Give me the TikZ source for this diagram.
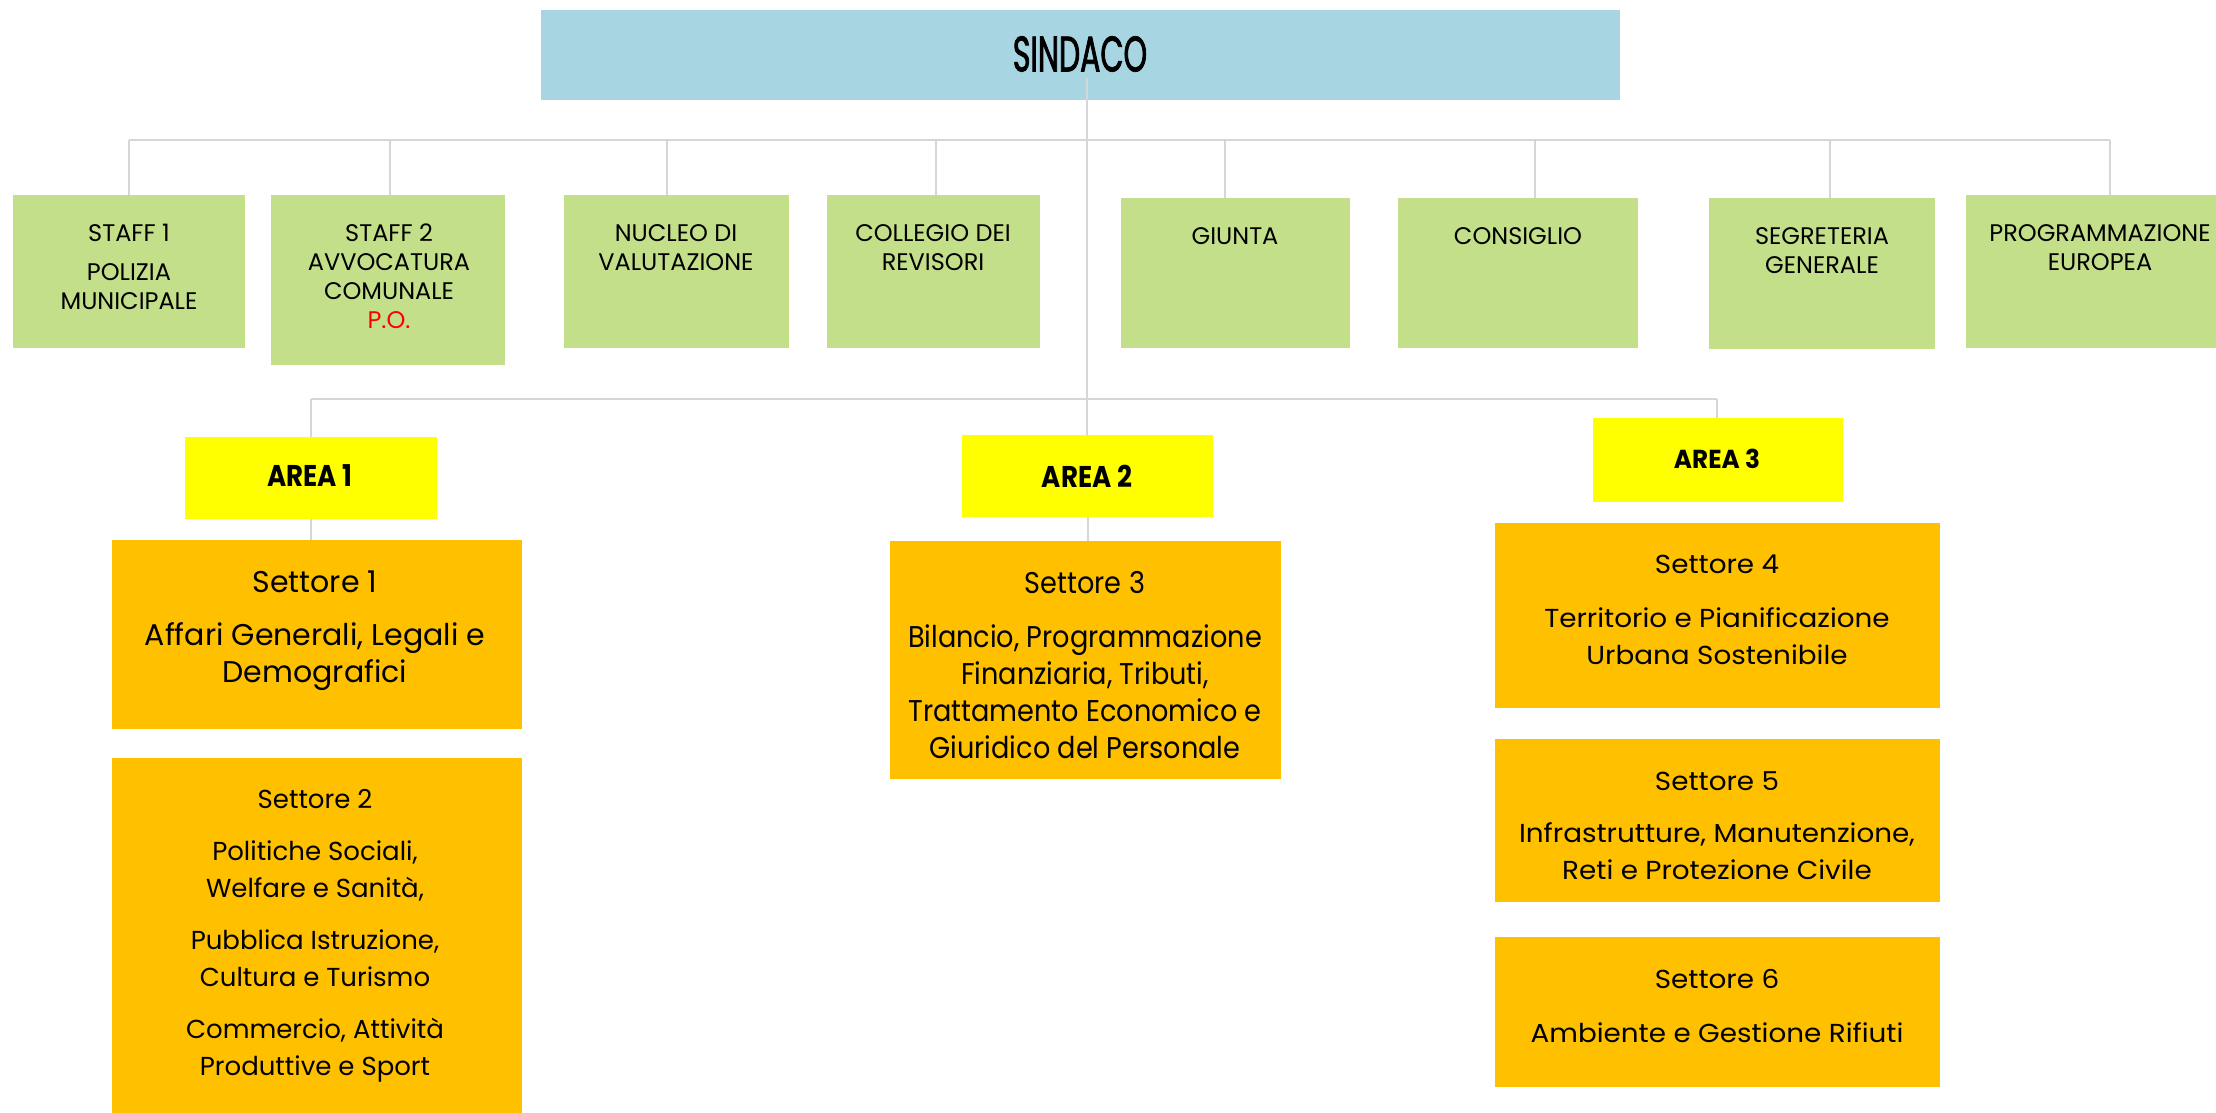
\documentclass[tikz,border=0pt]{standalone}
\usepackage{fontspec}
\setmainfont{Poppins}
\newfontfamily\sindfont{Poppins}[FakeStretch=0.6, FakeBold=1.5]
\newfontfamily\greenfont{Poppins}[FakeStretch=1.0]
\newfontfamily\areacfont{Poppins}[FakeStretch=0.87]
\newfontfamily\areafont{Poppins}[FakeStretch=0.95]
\newfontfamily\condfont{Poppins}[FakeStretch=1.0]
\newfontfamily\condnfont{Poppins}[FakeStretch=0.905]
\newfontfamily\widefont{Poppins}[FakeStretch=1.07]
\definecolor{sindblue}{HTML}{A8D5E2}
\definecolor{staffgreen}{HTML}{C4DF8A}
\definecolor{areayellow}{HTML}{FFFF00}
\definecolor{setorange}{HTML}{FFC000}
\definecolor{linegray}{HTML}{D6D6D6}
\definecolor{pored}{HTML}{FF0000}
\tikzset{
  boxbase/.style={draw=none, inner sep=0pt, anchor=north west},
  sindbox/.style={boxbase, fill=sindblue},
  greenbox/.style={boxbase, fill=staffgreen},
  areabox/.style={boxbase, fill=areayellow},
  setbox/.style={boxbase, fill=setorange},
  conn/.style={draw=linegray, line width=1.6pt},
  gtext/.style={anchor=north, inner sep=0pt, align=center, font=\greenfont\fontsize{24}{29}\selectfont},
  sctext/.style={anchor=north, inner sep=0pt, align=center, font=\condfont\fontsize{30}{37}\selectfont},
  sntext/.style={anchor=north, inner sep=0pt, align=center, font=\condnfont\fontsize{30}{37}\selectfont},
  srtext/.style={anchor=north, inner sep=0pt, align=center, font=\fontsize{26}{37}\selectfont},
  swtext/.style={anchor=north, inner sep=0pt, align=center, font=\widefont\fontsize{26}{37}\selectfont},
  actext/.style={inner sep=0pt, font=\areacfont\bfseries\fontsize{30}{36}\selectfont},
  artext/.style={inner sep=0pt, font=\areafont\bfseries\fontsize{26}{32}\selectfont},
}
\begin{document}
\begin{tikzpicture}[x=1pt,y=-1pt]
\useasboundingbox (0,0) rectangle (2216,1113);
% boxes
\node[sindbox, minimum width=1079pt, minimum height=90pt] (sind) at (541,10) {};
\node[greenbox, minimum width=232pt, minimum height=153pt] (st1) at (13,195) {};
\node[greenbox, minimum width=234pt, minimum height=170pt] (st2) at (271,195) {};
\node[greenbox, minimum width=225pt, minimum height=153pt] (st3) at (564,195) {};
\node[greenbox, minimum width=213pt, minimum height=153pt] (st4) at (827,195) {};
\node[greenbox, minimum width=229pt, minimum height=150pt] (st5) at (1121,198) {};
\node[greenbox, minimum width=240pt, minimum height=150pt] (st6) at (1398,198) {};
\node[greenbox, minimum width=226pt, minimum height=151pt] (st7) at (1709,198) {};
\node[greenbox, minimum width=250pt, minimum height=153pt] (st8) at (1966,195) {};
\node[areabox, minimum width=252pt, minimum height=82pt] (a1) at (185,437) {};
\node[areabox, minimum width=251pt, minimum height=82pt] (a2) at (962,435) {};
\node[areabox, minimum width=250pt, minimum height=84pt] (a3) at (1593,418) {};
\node[setbox, minimum width=410pt, minimum height=189pt] (s1) at (112,540) {};
\node[setbox, minimum width=410pt, minimum height=360pt] (s2) at (112,758) {};
\node[setbox, minimum width=391pt, minimum height=238pt] (s3) at (890,541) {};
\node[setbox, minimum width=445pt, minimum height=185pt] (s4) at (1495,523) {};
\node[setbox, minimum width=445pt, minimum height=163pt] (s5) at (1495,739) {};
\node[setbox, minimum width=445pt, minimum height=150pt] (s6) at (1495,937) {};
% connectors
\coordinate (busL) at (129,140);
\coordinate (busR) at (2110,140);
\draw[conn] (busL) -- (busR);
\coordinate (d1) at (129,140);
\coordinate (d2) at (390,140);
\coordinate (d3) at (667,140);
\coordinate (d4) at (936,140);
\coordinate (d5) at (1225,140);
\coordinate (d6) at (1535,140);
\coordinate (d7) at (1830,140);
\coordinate (d8) at (2110,140);
\draw[conn] (d1) -- (d1 |- st1.north);
\draw[conn] (d2) -- (d2 |- st2.north);
\draw[conn] (d3) -- (d3 |- st3.north);
\draw[conn] (d4) -- (d4 |- st4.north);
\draw[conn] (d5) -- (d5 |- st5.north);
\draw[conn] (d6) -- (d6 |- st6.north);
\draw[conn] (d7) -- (d7 |- st7.north);
\draw[conn] (d8) -- (d8 |- st8.north);
\coordinate (trunk) at (1087,78);
\draw[conn] (trunk) -- (trunk |- a2.north);
\coordinate (abL) at (311,399);
\coordinate (abR) at (1717,399);
\draw[conn] (abL) -- (abR);
\draw[conn] (abL) -- (abL |- a1.north);
\draw[conn] (abR) -- (abR |- a3.north);
\draw[conn] (a1.south) -- (a1.south |- s1.north);
\draw[conn] (a2.south) -- (a2.south |- s3.north);
% texts
\node[inner sep=0pt, font=\sindfont\fontsize{50}{56}\selectfont] (sindt) at (1080,54) {SINDACO};
\node[gtext] (st1t) at (129,224) {STAFF 1\\[10pt]POLIZIA\\MUNICIPALE};
\node[gtext] (st2t) at (389,224) {STAFF 2\\AVVOCATURA\\COMUNALE\\\textcolor{pored}{P.O.}};
\node[gtext] (st3t) at (676,224) {NUCLEO DI\\VALUTAZIONE};
\node[gtext] (st4t) at (933,224) {COLLEGIO DEI\\REVISORI};
\node[gtext] (st5t) at (1235,227) {GIUNTA};
\node[gtext] (st6t) at (1518,227) {CONSIGLIO};
\node[gtext] (st7t) at (1822,227) {SEGRETERIA\\GENERALE};
\node[gtext] (st8t) at (2100,224) {PROGRAMMAZIONE\\EUROPEA};
\node[actext] (a1t) at (310,476) {AREA 1};
\node[actext] (a2t) at (1087,476) {AREA 2};
\node[artext] (a3t) at (1717,459) {AREA 3};
\node[sctext] (s1t) at (315,571) {Settore 1\\[16pt]Affari Generali, Legali e\\Demografici};
\node[srtext] (s2t) at (315,789) {Settore 2\\[15pt]Politiche Sociali,\\Welfare e Sanità,\\[15pt]Pubblica Istruzione,\\Cultura e Turismo\\[15pt]Commercio, Attività\\Produttive e Sport};
\node[sntext] (s3t) at (1085,571) {Settore 3\\[17pt]Bilancio, Programmazione\\Finanziaria, Tributi,\\Trattamento Economico e\\Giuridico del Personale};
\node[swtext] (s4t) at (1717,555) {Settore 4\\[17pt]Territorio e Pianificazione\\Urbana Sostenibile};
\node[swtext] (s5t) at (1717,771) {Settore 5\\[15pt]Infrastrutture, Manutenzione,\\Reti e Protezione Civile};
\node[swtext] (s6t) at (1717,969) {Settore 6\\[17pt]Ambiente e Gestione Rifiuti};
\end{tikzpicture}
\end{document}
